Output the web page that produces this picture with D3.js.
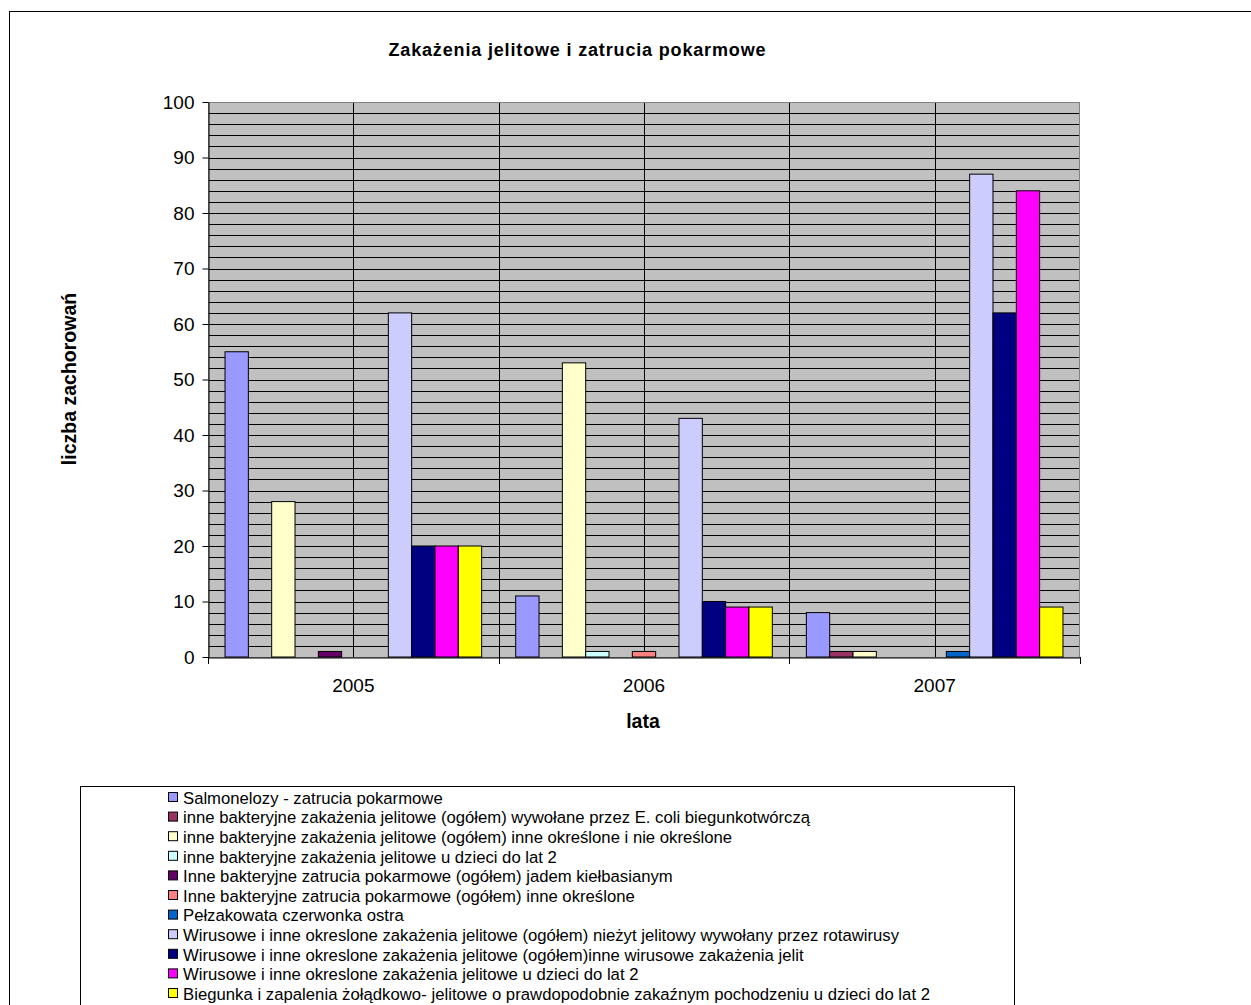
<!DOCTYPE html>
<html lang="pl">
  <head>
    <meta charset="UTF-8" />
    <title>Zakażenia jelitowe i zatrucia pokarmowe</title>
    <style>
      body { margin: 0; background: #fff; }
      text { font-family: "Liberation Sans", Arial, sans-serif; fill: #000; }
    </style>
  </head>
  <body>
    <svg id="chart" width="1251" height="1005"></svg>
    <script src="https://cdn.jsdelivr.net/npm/d3@7"></script>
    <script>
      // data
      var years = ['2005', '2006', '2007'];
      var seriesNames = [
        'Salmonelozy - zatrucia pokarmowe',
        'inne bakteryjne zakażenia jelitowe (ogółem) wywołane przez E. coli biegunkotwórczą',
        'inne bakteryjne zakażenia jelitowe (ogółem) inne określone i nie określone',
        'inne bakteryjne zakażenia jelitowe u dzieci do lat 2',
        'Inne bakteryjne zatrucia pokarmowe (ogółem) jadem kiełbasianym',
        'Inne bakteryjne zatrucia pokarmowe (ogółem) inne określone',
        'Pełzakowata czerwonka ostra',
        'Wirusowe i inne okreslone zakażenia jelitowe (ogółem) nieżyt jelitowy wywołany przez rotawirusy',
        'Wirusowe i inne okreslone zakażenia jelitowe (ogółem)inne wirusowe zakażenia jelit',
        'Wirusowe i inne okreslone zakażenia jelitowe u dzieci do lat 2',
        'Biegunka i zapalenia żołądkowo- jelitowe o prawdopodobnie zakaźnym pochodzeniu u dzieci do lat 2'
      ];
      var seriesColors = ['#9999FF', '#993366', '#FFFFCC', '#CCFFFF', '#660066', '#FF8080',
                          '#0066CC', '#CCCCFF', '#000080', '#FF00FF', '#FFFF00'];
      // values per series: [2005, 2006, 2007]
      var values = [
        [55, 11, 8],
        [0, 0, 1],
        [28, 53, 1],
        [0, 1, 0],
        [1, 0, 0],
        [0, 1, 0],
        [0, 0, 1],
        [62, 43, 87],
        [20, 10, 62],
        [20, 9, 84],
        [20, 9, 9]
      ];
      var yTicks = [0, 10, 20, 30, 40, 50, 60, 70, 80, 90, 100];

      var svg = d3.select('#chart');
      var plot = { left: 208, right: 1080, top: 102, bottom: 657 };

      // outer frame (runs past the visible area on the right and bottom)
      svg.append('rect')
        .attr('x', 9.5).attr('y', 11.5)
        .attr('width', 1260).attr('height', 1010)
        .attr('fill', '#fff').attr('stroke', '#000').attr('stroke-width', 1);

      var x0 = d3.scaleBand().domain(years).range([plot.left, plot.right]).paddingInner(0).paddingOuter(0);
      var x1 = d3.scaleBand().domain(d3.range(seriesNames.length))
        .range([0, x0.bandwidth()]).paddingOuter(0.73).paddingInner(0);
      var y = d3.scaleLinear().domain([0, 100]).range([plot.bottom, plot.top]);

      // plot area
      svg.append('rect')
        .attr('x', plot.left).attr('y', plot.top)
        .attr('width', plot.right - plot.left).attr('height', plot.bottom - plot.top)
        .attr('fill', '#C0C0C0');

      // horizontal gridlines every 2
      svg.append('g')
        .selectAll('line')
        .data(d3.range(2, 100, 2))
        .join('line')
        .attr('x1', plot.left).attr('x2', plot.right)
        .attr('y1', d => Math.round(y(d)) + 0.5).attr('y2', d => Math.round(y(d)) + 0.5)
        .attr('stroke', '#000').attr('stroke-width', 1);

      // vertical gridlines at every half category
      var vlines = [];
      years.forEach(yr => { vlines.push(x0(yr)); vlines.push(x0(yr) + x0.bandwidth() / 2); });
      svg.append('g')
        .selectAll('line')
        .data(vlines.slice(1))
        .join('line')
        .attr('x1', d => Math.round(d) + 0.5).attr('x2', d => Math.round(d) + 0.5)
        .attr('y1', plot.top).attr('y2', plot.bottom)
        .attr('stroke', '#000').attr('stroke-width', 1);

      // plot border
      svg.append('rect')
        .attr('x', plot.left + 0.5).attr('y', plot.top + 0.5)
        .attr('width', plot.right - plot.left - 1).attr('height', plot.bottom - plot.top)
        .attr('fill', 'none').attr('stroke', '#808080').attr('stroke-width', 1);

      // bars
      var cells = [];
      values.forEach((row, s) => row.forEach((v, c) => cells.push({ s: s, year: years[c], v: v })));
      svg.append('g')
        .selectAll('rect')
        .data(cells.filter(d => d.v > 0))
        .join('rect')
        .attr('x', d => x0(d.year) + x1(d.s))
        .attr('y', d => y(d.v))
        .attr('width', x1.bandwidth())
        .attr('height', d => y(0) - y(d.v))
        .attr('fill', d => seriesColors[d.s])
        .attr('stroke', '#000').attr('stroke-width', 1);

      // y axis
      var yAxis = svg.append('g')
        .attr('transform', `translate(${plot.left + 0.5},0)`)
        .call(d3.axisLeft(y).tickValues(yTicks).tickSize(6).tickPadding(8).tickSizeOuter(0));
      yAxis.select('.domain').attr('stroke', '#000');
      yAxis.selectAll('.tick line').attr('stroke', '#000');
      yAxis.selectAll('.tick text').style('font-size', '19px').attr('fill', '#000')
        .style('font-family', '"Liberation Sans", Arial, sans-serif');

      // x axis
      var xAxis = svg.append('g')
        .attr('transform', `translate(0,${plot.bottom + 0.5})`)
        .call(d3.axisBottom(x0).tickSize(0).tickPadding(21));
      xAxis.select('.domain').attr('stroke', '#000');
      xAxis.selectAll('.tick text').style('font-size', '19px').attr('fill', '#000')
        .style('font-family', '"Liberation Sans", Arial, sans-serif');
      svg.append('g')
        .selectAll('line')
        .data(years.map(d => x0(d)).concat([plot.right]))
        .join('line')
        .attr('x1', d => Math.round(d) + 0.5).attr('x2', d => Math.round(d) + 0.5)
        .attr('y1', plot.bottom).attr('y2', plot.bottom + 7)
        .attr('stroke', '#000');

      // titles
      svg.append('text')
        .attr('x', 577).attr('y', 56)
        .attr('text-anchor', 'middle')
        .attr('textLength', 377).attr('lengthAdjust', 'spacing')
        .style('font-size', '18px').style('font-weight', 'bold')
        .text('Zakażenia jelitowe i zatrucia pokarmowe');

      svg.append('text')
        .attr('transform', 'translate(76,379) rotate(-90)')
        .attr('text-anchor', 'middle')
        .style('font-size', '19.5px').style('font-weight', 'bold')
        .text('liczba zachorowań');

      svg.append('text')
        .attr('x', 643).attr('y', 728)
        .attr('text-anchor', 'middle')
        .style('font-size', '19.5px').style('font-weight', 'bold')
        .text('lata');

      // legend
      svg.append('rect')
        .attr('x', 80.5).attr('y', 786.5)
        .attr('width', 934).attr('height', 240)
        .attr('fill', '#fff').attr('stroke', '#000').attr('stroke-width', 1);

      var legend = svg.append('g')
        .selectAll('g')
        .data(seriesNames)
        .join('g')
        .attr('transform', (d, i) => `translate(168,${798 + i * 19.6})`);
      legend.append('rect')
        .attr('x', 0.5).attr('y', -5.5)
        .attr('width', 9).attr('height', 9)
        .attr('fill', (d, i) => seriesColors[i])
        .attr('stroke', '#000');
      legend.append('text')
        .attr('x', 15).attr('y', 0)
        .attr('dy', '0.35em')
        .attr('textLength', (d, i) => i === seriesNames.length - 1 ? 747 : null)
        .style('font-size', '16.7px')
        .text(d => d);
    </script>
  </body>
</html>
